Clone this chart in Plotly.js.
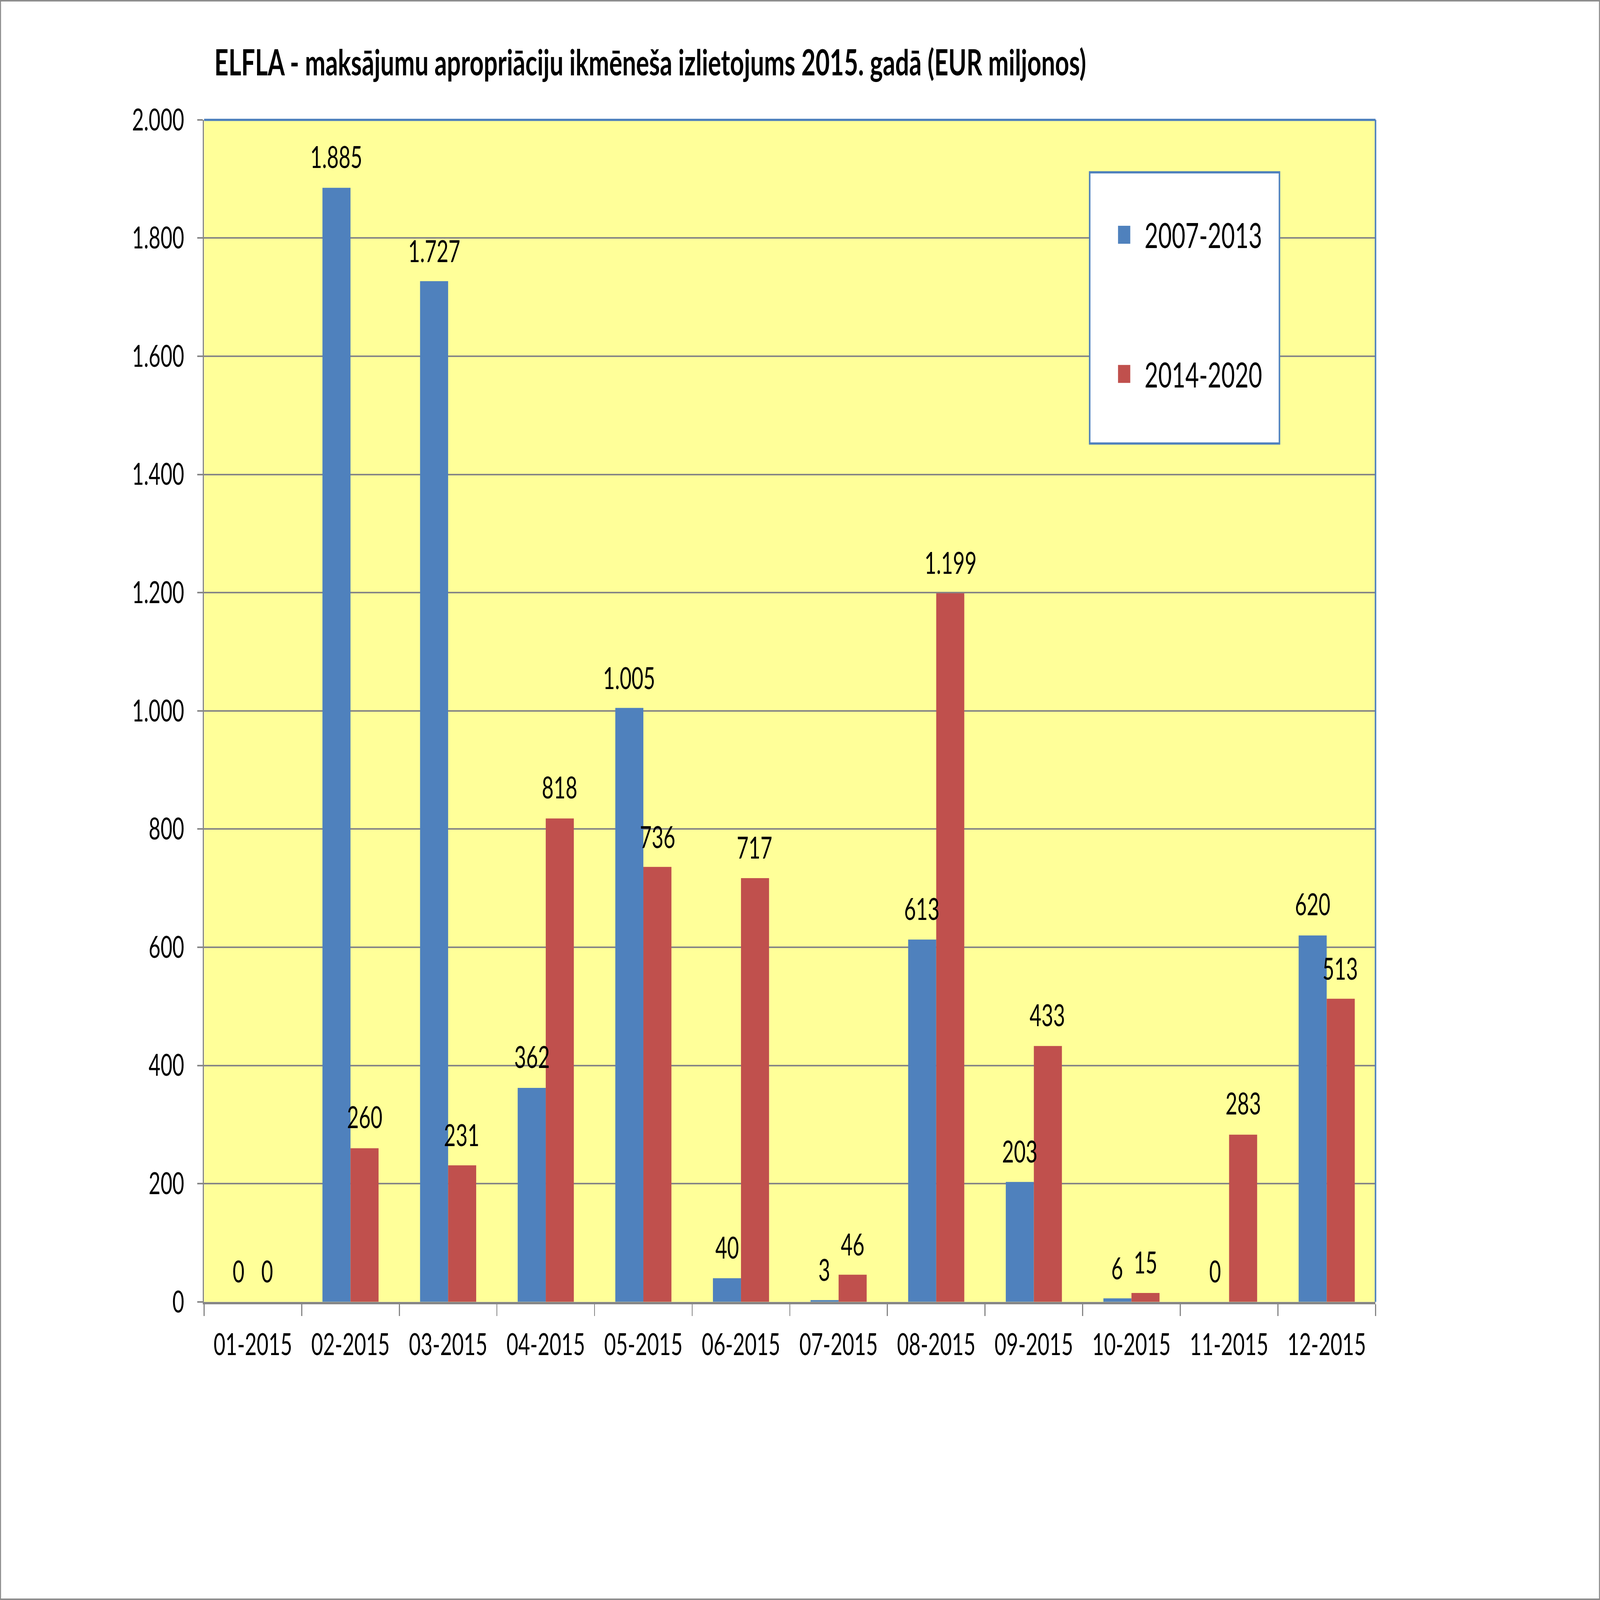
<!DOCTYPE html>
<html>
<head>
<meta charset="utf-8">
<script src="https://cdn.plot.ly/plotly-3.0.1.min.js"></script>
<style>
    html, body { margin: 0; padding: 0; background: white; overflow: hidden; }
    #sheet {
        position: absolute; left: 0; top: 0;
        width: 1568px; height: 1068px;
        transform-origin: 0 0;
    }
    #chart { position: absolute; left: 0; top: 0; width: 1568px; height: 1068px; }
    #edge {
        position: absolute; left: 0; top: 0; width: 1568px; height: 1068px;
        box-sizing: border-box; border: 1px solid #8c8c8c; pointer-events: none;
    }
</style>
</head>
<body>
<div id="sheet"><div id="chart"></div><div id="edge"></div></div>
<script>
// monthly values, EUR millions
var months = ['01-2015', '02-2015', '03-2015', '04-2015', '05-2015', '06-2015',
              '07-2015', '08-2015', '09-2015', '10-2015', '11-2015', '12-2015'];
var period0713 = [0, 1885, 1727, 362, 1005, 40, 3, 613, 203, 6, 0, 620];
var period1420 = [0, 260, 231, 818, 736, 717, 46, 1199, 433, 15, 283, 513];
var seriesNames = ['2007-2013', '2014-2020'];
var seriesColours = ['#4F81BD', '#C0504D'];
var yTicks = [0, 200, 400, 600, 800, 1000, 1200, 1400, 1600, 1800, 2000];

var fontName = 'Lato, "Open Sans", sans-serif';

// layout is done on a 1568x1068 sheet, stretched to fill the window
var kx = window.innerWidth / 1568;
var ky = window.innerHeight / 1068;
document.getElementById('sheet').style.transform = 'scale(' + kx + ',' + ky + ')';

var plotLeft = 200, plotRight = 220;
var gap = 0.425;
// half a bar, in sheet pixels: used to put the value over its own bar
var barHalf = (1568 - plotLeft - plotRight) / months.length * (1 - gap) / 4;

function thousands(v)
{
    return String(v).replace(/\B(?=(\d{3})+(?!\d))/g, '.');
}

function bar_trace(values, i)
{
    return {
        x: months,
        y: values,
        type: 'bar',
        name: seriesNames[i],
        legendgroup: seriesNames[i],
        marker: { color: seriesColours[i], line: { width: 0 } },
        hoverinfo: 'skip'
    };
}

function value_labels(values, i)
{
    var out = [];
    values.forEach(function(v, j) {
        out.push({
            x: months[j],
            y: v,
            xref: 'x',
            yref: 'y',
            text: thousands(v),
            showarrow: false,
            xshift: (i === 0 ? -1 : 1) * barHalf,
            yshift: 21,
            yanchor: 'middle',
            font: { family: fontName, size: 20, color: 'black' }
        });
    });
    return out;
}

var data = [
    bar_trace(period0713, 0),
    bar_trace(period1420, 1)
];

var layout = {
    width: 1568,
    height: 1068,
    margin: { l: plotLeft, r: plotRight, t: 80, b: 199 },
    paper_bgcolor: 'white',
    plot_bgcolor: '#FFFF99',
    separators: ',.',
    font: { family: fontName, color: 'black' },
    title: {
        text: '<b>ELFLA - maksājumu apropriāciju ikmēneša izlietojums 2015. gadā (EUR miljonos)</b>',
        font: { family: fontName, size: 24, color: 'black' },
        x: 0.134, xanchor: 'left', xref: 'container',
        y: 0.9607, yanchor: 'middle', yref: 'container'
    },
    barmode: 'group',
    bargap: gap,
    bargroupgap: 0,
    showlegend: true,
    legend: {
        x: 0.768, xanchor: 'left',
        y: 0.93, yanchor: 'top',
        bgcolor: 'rgba(0,0,0,0)',
        borderwidth: 0,
        traceorder: 'grouped',
        tracegroupgap: 60,
        font: { family: fontName, size: 23, color: 'black' }
    },
    xaxis: {
        type: 'category',
        tickson: 'boundaries',
        ticks: 'outside',
        ticklen: 8,
        tickwidth: 1,
        tickcolor: '#868686',
        ticklabelstandoff: 10,
        showline: true,
        linecolor: '#868686',
        linewidth: 1.5,
        showgrid: false,
        tickfont: { family: fontName, size: 20, color: 'black' },
        automargin: false
    },
    yaxis: {
        range: [0, 2000],
        tickvals: yTicks,
        tickformat: ',',
        ticks: 'outside',
        ticklen: 5,
        tickwidth: 1,
        tickcolor: '#868686',
        ticklabelstandoff: 9,
        showline: true,
        linecolor: '#868686',
        linewidth: 1.5,
        showgrid: true,
        gridcolor: '#868686',
        gridwidth: 1,
        zeroline: false,
        tickfont: { family: fontName, size: 20, color: 'black' },
        automargin: false
    },
    annotations: value_labels(period0713, 0).concat(value_labels(period1420, 1)),
    shapes: [
        // plot area border on top and right
        { type: 'line', xref: 'paper', yref: 'paper', x0: 0, x1: 1, y0: 1, y1: 1,
          line: { color: '#4F81BD', width: 1.5 } },
        { type: 'line', xref: 'paper', yref: 'paper', x0: 1, x1: 1, y0: 0, y1: 1,
          line: { color: '#4F81BD', width: 1.5 } },
        // legend box
        { type: 'rect', xref: 'paper', yref: 'paper', layer: 'above',
          x0: 0.756, x1: 0.918, y0: 0.7262, y1: 0.9556,
          fillcolor: 'white', line: { color: '#4F81BD', width: 1.5 } }
    ]
};

Plotly.newPlot('chart', data, layout, { staticPlot: true, displayModeBar: false });
</script>
</body>
</html>
